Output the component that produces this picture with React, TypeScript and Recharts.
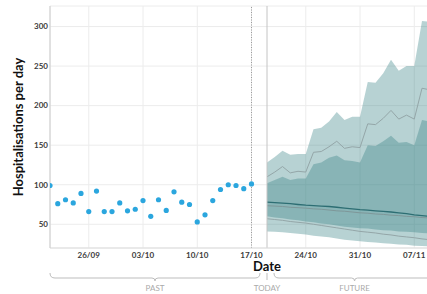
import {
  ComposedChart,
  Area,
  Line,
  XAxis,
  YAxis,
  CartesianGrid,
  ReferenceLine,
  ReferenceArea,
} from "recharts";

// day 0 = 21/09
const pastObs = [
  99, 76, 81, 77, 89, 66, 92, 66, 66, 77, 67, 69, 80, 60, 81, 67.5, 91, 78, 75, 53, 62, 80, 94,
  100, 99, 95, 101,
];
const futureStart = 28;
const outerHi = [128, 135, 143, 138, 139, 139, 170, 172, 180, 192, 182, 186, 186, 230, 229, 241, 258, 244, 250, 250, 307, 306];
const grayHi = [110, 116, 123, 115, 117, 116, 141, 142, 148, 155, 146, 148, 147, 177, 176, 184, 194, 183, 188, 183, 222, 220];
const innerHi = [102, 106, 110, 106, 108, 108, 126, 128, 134, 137, 131, 130, 128, 150, 149, 155, 162, 153, 154, 150, 182, 180];
const meanLine = [78, 77.3, 76.7, 76, 75, 74.2, 73.7, 73, 72.5, 71.5, 70.5, 69.5, 68.5, 68, 67, 66.2, 65.5, 64.5, 63.5, 62, 61, 60];
const medianLine = [73.5, 73, 72.5, 71.5, 71, 70.4, 69.5, 69, 68, 67, 66.5, 65.5, 64.5, 64, 63, 62.5, 61.5, 61, 60, 59.5, 58.5, 58];
const innerLo = [60, 58.5, 57.5, 56, 55, 53.5, 52.5, 51, 50, 48.5, 47, 46, 45, 44.5, 43.5, 42.5, 42, 41, 40.5, 40, 39, 38.5];
const grayLo = [57, 56, 55, 53.5, 52.5, 51.5, 50, 48.5, 47, 45.5, 44, 42.5, 41, 40, 39, 37.5, 36.5, 35, 34, 33, 31.5, 30.5];
const outerLo = [41, 40.5, 40, 39, 38, 37, 35.5, 34.5, 33.5, 32, 30.5, 29.5, 28.5, 27.5, 27, 26, 25.5, 24.5, 24, 23, 22.5, 22];

const tickDays = [5, 12, 19, 26, 33, 40, 47];
const tickLabels = ["26/09", "03/10", "10/10", "17/10", "24/10", "31/10", "07/11"];
const yTicks = [50, 100, 150, 200, 250, 300];

const data = [
  ...pastObs.map((v, i) => ({ day: i, obs: v })),
  ...outerHi.map((_, i) => ({
    day: futureStart + i,
    outer: [outerLo[i], outerHi[i]],
    inner: [innerLo[i], innerHi[i]],
    grayHi: grayHi[i],
    grayLo: grayLo[i],
    mean: meanLine[i],
    median: medianLine[i],
  })),
];

const FONT = "Lato, sans-serif";
const bracketColor = "#bdbdbd";
const labelColor = "#aaaaaa";

function bracket(text: string) {
  return (props: any) => {
    const { x, y, width, height } = props.viewBox;
    const by = y + height + 30;
    const r = x + width;
    const mid = x + width / 2;
    const d = `M ${x} ${by - 5} Q ${x} ${by} ${x + 5} ${by} L ${mid - 3} ${by} Q ${mid} ${by} ${mid} ${by + 3} Q ${mid} ${by} ${mid + 3} ${by} L ${r - 5} ${by} Q ${r} ${by} ${r} ${by - 5}`;
    return (
      <g>
        <path d={d} stroke={bracketColor} fill="none" strokeWidth={1} />
        <text x={mid} y={by + 10} textAnchor="middle" dominantBaseline="central" fontSize={8} fontFamily={FONT} fill={labelColor}>
          {text}
        </text>
      </g>
    );
  };
}

function todayMark(props: any) {
  const { x, y, height } = props.viewBox;
  const by = y + height + 30;
  return (
    <g>
      <line x1={x} x2={x} y1={by - 5} y2={by + 2} stroke={bracketColor} strokeWidth={1} />
      <text x={x} y={by + 10} textAnchor="middle" dominantBaseline="central" fontSize={8} fontFamily={FONT} fill={labelColor}>
        TODAY
      </text>
    </g>
  );
}

function yTitle(props: any) {
  const { x, y, height } = props.viewBox;
  const cx = x + 18;
  const cy = y + height / 2;
  return (
    <text
      x={cx}
      y={cy}
      transform={`rotate(-90, ${cx}, ${cy})`}
      textAnchor="middle"
      dominantBaseline="central"
      fontSize={13}
      fontWeight={700}
      fontFamily={FONT}
      fill="#111"
    >
      Hospitalisations per day
    </text>
  );
}

export default function App() {
  return (
    <div style={{ position: "absolute", left: 0, top: 0, width: 427, height: 294, overflow: "hidden" }}>
      <ComposedChart width={484} height={294} data={data} margin={{ top: 6, right: 0, bottom: 0, left: 0 }} style={{ fontFamily: FONT }}>
        <CartesianGrid stroke="#ececec" />
        <XAxis
          type="number"
          dataKey="day"
          domain={[0, 56]}
          ticks={tickDays}
          tickFormatter={(d) => tickLabels[tickDays.indexOf(d)]}
          allowDataOverflow
          height={46}
          tickLine={false}
          tickSize={0}
          tickMargin={4}
          axisLine={{ stroke: "#dddddd" }}
          tick={{ fill: "#3a3a3a", fontSize: 8, fontWeight: 700, fontFamily: FONT }}
          label={{ value: "Date", position: "insideBottom", offset: 23, fill: "#111", fontSize: 13, fontWeight: 700, fontFamily: FONT }}
        />
        <YAxis
          type="number"
          domain={[20, 326]}
          ticks={yTicks}
          allowDataOverflow
          width={50}
          tickLine={false}
          tickSize={0}
          tickMargin={2}
          axisLine={{ stroke: "#cccccc" }}
          tick={{ fill: "#3a3a3a", fontSize: 8, fontWeight: 700, fontFamily: FONT }}
          label={{ content: yTitle }}
        />
        <Area type="linear" dataKey="outer" stroke="none" fill="#327d82" fillOpacity={0.35} isAnimationActive={false} />
        <Area type="linear" dataKey="inner" stroke="none" fill="#327d82" fillOpacity={0.35} isAnimationActive={false} />
        <Line type="linear" dataKey="grayHi" stroke="#94a6a8" strokeWidth={1} dot={false} activeDot={false} isAnimationActive={false} />
        <Line type="linear" dataKey="grayLo" stroke="#94a6a8" strokeWidth={1} dot={false} activeDot={false} isAnimationActive={false} />
        <Line type="linear" dataKey="median" stroke="#7e9799" strokeWidth={1} dot={false} activeDot={false} isAnimationActive={false} />
        <Line type="linear" dataKey="mean" stroke="#2d6e73" strokeWidth={1.3} dot={false} activeDot={false} isAnimationActive={false} />
        <ReferenceLine x={26} stroke="#9a9a9a" strokeDasharray="1 1.5" />
        <ReferenceLine x={futureStart} stroke="#c4c4c4" label={{ content: todayMark }} />
        <ReferenceArea x1={0} x2={27.1} fill="none" fillOpacity={0} ifOverflow="visible" label={{ content: bracket("PAST") }} />
        <ReferenceArea x1={28.9} x2={49.7} fill="none" fillOpacity={0} ifOverflow="visible" label={{ content: bracket("FUTURE") }} />
        <Line
          type="linear"
          dataKey="obs"
          stroke="none"
          dot={{ r: 2.6, fill: "#2ba6de", stroke: "none" }}
          activeDot={false}
          isAnimationActive={false}
        />
      </ComposedChart>
    </div>
  );
}
